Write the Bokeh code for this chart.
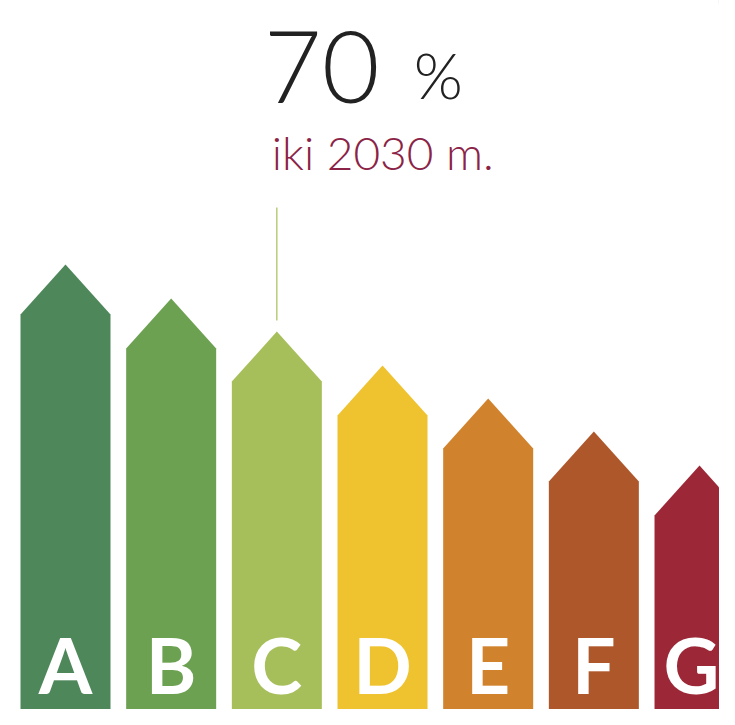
from bokeh.plotting import figure
from bokeh.models import ColumnDataSource, Range1d
from bokeh.core.properties import value
from bokeh.embed import file_html
from bokeh.resources import INLINE

# ---- data ----
labels = ["A", "B", "C", "D", "E", "F", "G"]
levels = [411, 377, 344, 310, 277, 244, 210]          # height of each bar's shoulder
colors = ["#4e875a", "#6ba150", "#a7bf5b", "#efc22f", "#d1822c", "#ae572a", "#9b2737"]
headline_value = "70"
headline_unit = "%"
subtitle = "iki 2030 m."
highlight = "C"

# ---- layout ----
W, H = 719, 709
PITCH = 105.67                 # pixels per category
X0 = -65 / PITCH
HALF = 45 / PITCH              # half bar width (category units)
HEAD = 50                      # arrow-head height

p = figure(width=W, height=H,
           x_range=Range1d(X0, X0 + W / PITCH), y_range=Range1d(725 - H, 725),
           output_backend="svg", toolbar_location=None,
           x_axis_type=None, y_axis_type=None, min_border=0)
p.outline_line_color = None
p.background_fill_color = "white"
p.border_fill_color = "white"

# decorative pale circle in top-right corner
p.scatter(x=[X0 + 800 / PITCH], y=[735], size=166, marker="circle",
          fill_color="#f2f2f2", line_color=None)

idx = list(range(len(labels)))
xs = [[i - HALF, i - HALF, i, i + HALF, i + HALF] for i in idx]
ys = [[-10, s, s + HEAD, s, -10] for s in levels]
src = ColumnDataSource(dict(xs=xs, ys=ys, color=colors))
p.patches("xs", "ys", source=src, fill_color="color", line_color=None)

# keep the last letter inside the visible part of its (cropped) bar
x_off = [0] * (len(idx) - 1) + [-8]
p.text(x=idx, y=[62] * len(idx), x_offset=x_off, text=labels, text_font=value("Lato"),
       text_font_style="bold", text_font_size="77px", text_color="white",
       text_align="center", text_baseline="alphabetic")

hi = labels.index(highlight)
apex = levels[hi] + HEAD
p.segment(x0=[hi], y0=[apex + 11], x1=[hi], y1=[apex + 124],
          line_color="#a7bf5b", line_width=1.2)

p.text(x=[hi], y=[659], x_offset=[-13], text=[headline_value],
       text_font=value("Lato Light"), text_font_size="100px",
       text_color="#222222", text_align="left", text_baseline="alphabetic")
p.text(x=[hi], y=[651], x_offset=[137], text=[headline_unit],
       text_font=value("Lato Light"), text_font_size="63px",
       text_color="#222222", text_align="left", text_baseline="alphabetic")
p.text(x=[hi], y=[573], x_offset=[-5], text=[subtitle],
       text_font=value("Lato Light"), text_font_size="46px",
       text_color="#8b2346", text_align="left", text_baseline="alphabetic")

open("out.html", "w").write(file_html(p, INLINE))
